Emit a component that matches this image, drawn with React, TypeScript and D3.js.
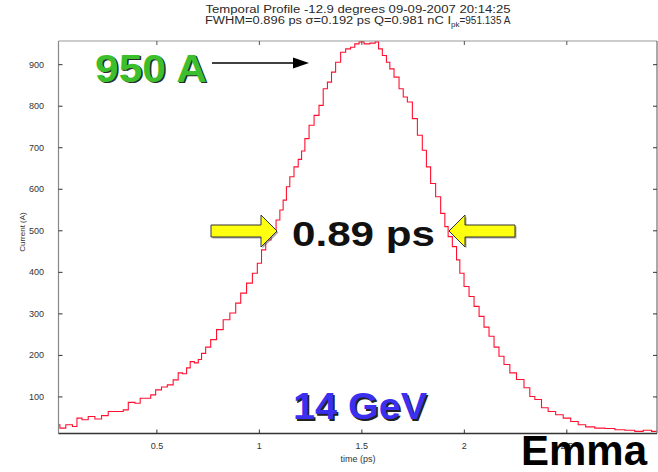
import React from "react";
import * as d3 from "d3";

const timePs = [0.019,0.035,0.076,0.100,0.120,0.149,0.181,0.214,0.246,0.279,0.328,0.344,0.377,0.409,0.428,0.458,0.482,0.506,0.539,0.563,0.596,0.612,0.637,0.653,0.672,0.694,0.710,0.726,0.750,0.775,0.807,0.840,0.872,0.897,0.921,0.954,0.978,1.002,1.019,1.043,1.071,1.092,1.108,1.124,1.140,1.157,1.181,1.198,1.214,1.230,1.255,1.279,1.303,1.320,1.344,1.360,1.384,1.409,1.433,1.457,1.474,1.499,1.523,1.555,1.575,1.588,1.612,1.628,1.645,1.669,1.694,1.710,1.734,1.759,1.783,1.807,1.823,1.848,1.872,1.897,1.913,1.929,1.954,1.970,1.986,2.011,2.035,2.060,2.084,2.108,2.133,2.157,2.181,2.206,2.238,2.271,2.311,2.328,2.360,2.393,2.425,2.466,2.499,2.539,2.572,2.612,2.661,2.710,2.759,2.807,2.856,2.889,2.938];
const currentA = [33,25,33,29,49,45,53,47,55,65,65,69,87,85,97,97,105,117,124,129,141,158,156,170,185,182,190,205,220,238,262,286,302,326,350,374,398,422,454,478,498,526,550,574,606,630,654,672,692,722,754,778,802,842,858,882,906,930,938,942,950,955,950,952,955,938,922,906,890,870,842,822,810,770,730,694,654,614,582,542,510,486,462,430,398,366,342,318,294,268,246,220,198,178,158,142,122,101,94,74,65,57,49,41,33,28,25,24,21,20,17,20,17];

const xTicks = [0.5, 1, 1.5, 2, 2.5];
const xTickLabels = ["0.5", "1", "1.5", "2", "2.5"];
const yTicks = [100, 200, 300, 400, 500, 600, 700, 800, 900];

const titleLine1 = "Temporal Profile -12.9 degrees 09-09-2007 20:14:25";
const titleLine2a = "FWHM=0.896 ps   σ=0.192 ps   Q=0.981 nC   I";
const titleLine2sub = "pk";
const titleLine2b = "=951.135 A";

const W = 658, H = 472;
const L = 58.5, R = 657, T = 41, B = 433.5;

export default function App() {
  const x = d3.scaleLinear().domain([0.02, 2.94]).range([L, R]);
  const y = d3.scaleLinear().domain([12, 957]).range([B, T]);
  const pts: [number, number][] = timePs.map((t, i) => [t, currentA[i]]);
  const line = d3.line<[number, number]>()
    .x(d => x(d[0]))
    .y(d => y(d[1]))
    .curve(d3.curveStep);
  const font = "'Liberation Sans', Arial, sans-serif";

  const yellowArrow = (tipX: number, dir: number, cy: number) => {
    const head = 16, len = 66, bh = 6, hh = 16;
    const baseX = tipX - dir * head;
    const tailX = tipX - dir * len;
    return [
      [tailX, cy - bh], [baseX, cy - bh], [baseX, cy - hh], [tipX, cy],
      [baseX, cy + hh], [baseX, cy + bh], [tailX, cy + bh],
    ].map(q => q.join(",")).join(" ");
  };

  return (
    <svg width={W} height={H} style={{ position: "absolute", left: 0, top: 0, background: "#fff" }} fontFamily={font}>
      <rect x={0} y={0} width={W} height={H} fill="#fff" />
      <defs>
        <clipPath id="plotclip">
          <rect x={L} y={T} width={R - L} height={B - T} />
        </clipPath>
      </defs>

      {/* Title */}
      <text x={358} y={13} fontSize={10} textAnchor="middle" fill="#2a2a2a" textLength={305} lengthAdjust="spacingAndGlyphs">{titleLine1}</text>
      <text x={205} y={24} fontSize={10} fill="#2a2a2a">
        <tspan textLength={246} lengthAdjust="spacingAndGlyphs">{titleLine2a}</tspan>
        <tspan fontSize={8} dy={3}>{titleLine2sub}</tspan>
        <tspan dy={-3}>{titleLine2b}</tspan>
      </text>

      {/* Curve */}
      <path d={line(pts) || ""} fill="none" stroke="#ff1030" strokeWidth={1.1} clipPath="url(#plotclip)" />

      {/* Axes box */}
      <line x1={L} y1={T} x2={R} y2={T} stroke="#999" strokeWidth={1} />
      <line x1={L} y1={T} x2={L} y2={B} stroke="#888" strokeWidth={1.2} />
      <line x1={R} y1={T} x2={R} y2={B} stroke="#555" strokeWidth={1} />
      <line x1={L} y1={B} x2={R} y2={B} stroke="#333" strokeWidth={1.3} />

      {/* X ticks */}
      {xTicks.map((t, i) => (
        <g key={"xt" + i}>
          <line x1={x(t)} x2={x(t)} y1={B} y2={B - 4} stroke="#333" />
          <line x1={x(t)} x2={x(t)} y1={T} y2={T + 4} stroke="#555" />
          <text x={x(t)} y={449} fontSize={9} textAnchor="middle" fill="#333">{xTickLabels[i]}</text>
        </g>
      ))}
      {/* Y ticks */}
      {yTicks.map((v, i) => (
        <g key={"yt" + i}>
          <line x1={L} x2={L + 4} y1={y(v)} y2={y(v)} stroke="#333" />
          <line x1={R} x2={R - 4} y1={y(v)} y2={y(v)} stroke="#333" />
          <text x={44} y={y(v) + 3} fontSize={9} textAnchor="end" fill="#333">{v}</text>
        </g>
      ))}

      {/* Axis labels */}
      <text x={358} y={462} fontSize={9} textAnchor="middle" fill="#333">time (ps)</text>
      <text transform={`translate(25,232) rotate(-90)`} fontSize={8} textAnchor="middle" fill="#333">Current (A)</text>

      {/* 950 A annotation */}
      <text x={96.5} y={83} fontSize={38} fontWeight="bold" fill="#2a2a2a" textLength={112} lengthAdjust="spacingAndGlyphs">950 A</text>
      <text x={95} y={81.5} fontSize={38} fontWeight="bold" fill="#3cbf2c" textLength={112} lengthAdjust="spacingAndGlyphs">950 A</text>
      <line x1={212} y1={63} x2={296} y2={63} stroke="#000" strokeWidth={1.5} />
      <polygon points="293,57.5 309,63 293,68.5" fill="#000" />

      {/* FWHM annotation */}
      <polygon points={yellowArrow(277, 1, 231)} fill="#555" transform="translate(1.5,1.5)" opacity={0.5} />
      <polygon points={yellowArrow(277, 1, 231)} fill="#ffff10" stroke="#333" strokeWidth={1} />
      <polygon points={yellowArrow(449, -1, 231)} fill="#555" transform="translate(1.5,1.5)" opacity={0.5} />
      <polygon points={yellowArrow(449, -1, 231)} fill="#ffff10" stroke="#333" strokeWidth={1} />
      <text x={292} y={246} fontSize={35} fontWeight="bold" fill="#111" textLength={143} lengthAdjust="spacingAndGlyphs">0.89 ps</text>

      {/* 14 GeV */}
      <text x={294.5} y={420.5} fontSize={36} fontWeight="bold" fill="#222" textLength={134} lengthAdjust="spacingAndGlyphs">14 GeV</text>
      <text x={293} y={419} fontSize={36} fontWeight="bold" fill="#3b2ff0" textLength={134} lengthAdjust="spacingAndGlyphs">14 GeV</text>

      {/* Emma */}
      <text x={521} y={465} fontSize={43} fontWeight="bold" fill="#000" textLength={126} lengthAdjust="spacingAndGlyphs">Emma</text>
    </svg>
  );
}
